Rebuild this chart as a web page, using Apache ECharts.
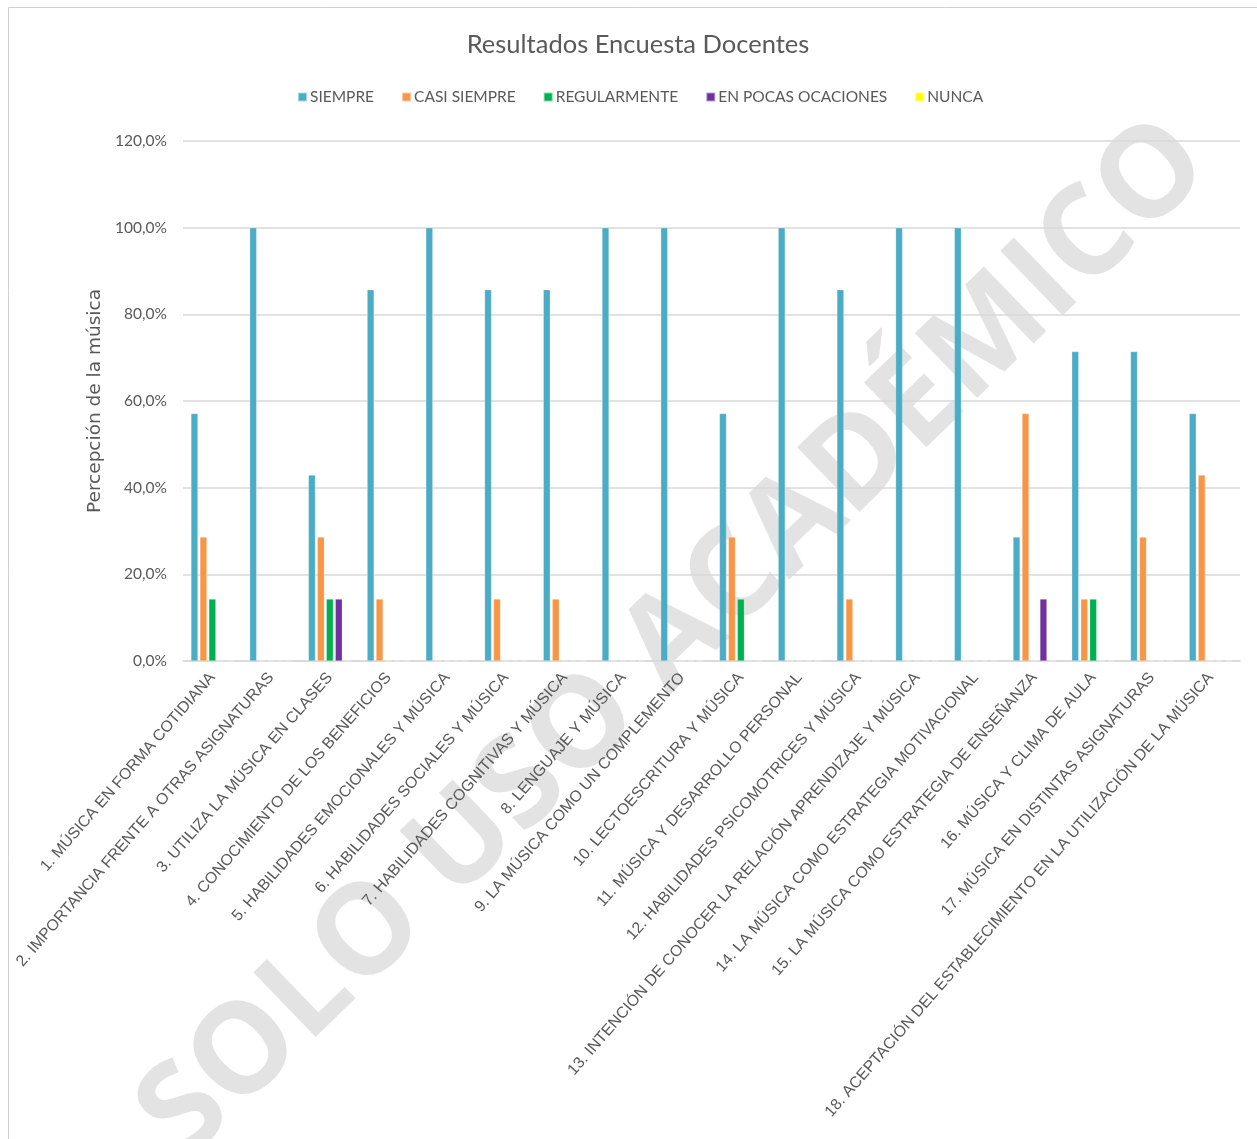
<!DOCTYPE html>
<html>
<head>
<meta charset="utf-8">
<script src="https://cdn.jsdelivr.net/npm/echarts@6/dist/echarts.min.js"></script>
<style>
html,body{margin:0;padding:0;background:#fff;}
#chart{width:1257px;height:1139px;}
</style>
</head>
<body>
<div id="chart"></div>
<script>
const categories = [
  "1. MÚSICA EN FORMA COTIDIANA",
  "2. IMPORTANCIA FRENTE A OTRAS ASIGNATURAS",
  "3. UTILIZA LA MÚSICA EN CLASES",
  "4. CONOCIMIENTO DE LOS BENEFICIOS",
  "5. HABILIDADES EMOCIONALES Y MÚSICA",
  "6. HABILIDADES SOCIALES Y MÚSICA",
  "7. HABILIDADES COGNITIVAS Y MÚSICA",
  "8. LENGUAJE Y MÚSICA",
  "9. LA MÚSICA COMO UN COMPLEMENTO",
  "10. LECTOESCRITURA Y MÚSICA",
  "11. MÚSICA Y DESARROLLO PERSONAL",
  "12. HABILIDADES PSICOMOTRICES Y MÚSICA",
  "13. INTENCIÓN DE CONOCER LA RELACIÓN APRENDIZAJE Y MÚSICA",
  "14. LA MÚSICA COMO ESTRATEGIA MOTIVACIONAL",
  "15. LA MÚSICA COMO ESTRATEGIA DE ENSEÑANZA",
  "16. MÚSICA Y CLIMA DE AULA",
  "17. MÚSICA EN DISTINTAS ASIGNATURAS",
  "18. ACEPTACIÓN DEL ESTABLECIMIENTO EN LA UTILIZACIÓN DE LA MÚSICA"
];
const seriesNames = ["SIEMPRE", "CASI SIEMPRE", "REGULARMENTE", "EN POCAS OCACIONES", "NUNCA"];
const siempre      = [57.1, 100, 42.9, 85.7, 100, 85.7, 85.7, 100, 100, 57.1, 100, 85.7, 100, 100, 28.6, 71.4, 71.4, 57.1];
const casiSiempre  = [28.6, 0, 28.6, 14.3, 0, 14.3, 14.3, 0, 0, 28.6, 0, 14.3, 0, 0, 57.1, 14.3, 28.6, 42.9];
const regularmente = [14.3, 0, 14.3, 0, 0, 0, 0, 0, 0, 14.3, 0, 0, 0, 0, 0, 14.3, 0, 0];
const enPocas      = [0, 0, 14.3, 0, 0, 0, 0, 0, 0, 0, 0, 0, 0, 0, 14.3, 0, 0, 0];
const nunca        = [0, 0, 0, 0, 0, 0, 0, 0, 0, 0, 0, 0, 0, 0, 0, 0, 0, 0];
const seriesData = [siempre, casiSiempre, regularmente, enPocas, nunca];
const colors = ["#4BACC6", "#F79646", "#00B050", "#7030A0", "#FFFF00"];
const yTicks = { min: 0, max: 120, interval: 20 };

const FONT = "Lato, sans-serif";
const chart = echarts.init(document.getElementById('chart'), null, { renderer: 'canvas' });
const option = {
  animation: false,
  backgroundColor: '#fff',
  color: colors,
  title: {
    text: 'Resultados Encuesta Docentes',
    left: 633,
    textAlign: 'center',
    top: 27,
    textStyle: { fontFamily: FONT, fontSize: 25.5, fontWeight: 'normal', color: '#595959' }
  },
  legend: {
    top: 89,
    left: 297,
    padding: 0,
    itemWidth: 9,
    itemHeight: 9,
    itemGap: 27,
    icon: 'rect',
    textStyle: { fontFamily: FONT, fontSize: 15.5, color: '#595959', padding: [0, 0, 0, -2] },
    data: seriesNames
  },
  grid: { left: 183, right: 17, top: 141, bottom: 478, containLabel: false },
  xAxis: {
    type: 'category',
    data: categories,
    axisLine: { lineStyle: { color: '#d9d9d9', width: 1.5 } },
    axisTick: { show: false },
    axisLabel: {
      interval: 0,
      rotate: 49,
      margin: 14,
      fontFamily: "'Liberation Sans', Arial, sans-serif",
      fontSize: 15.8,
      color: '#595959'
    }
  },
  yAxis: {
    type: 'value',
    min: yTicks.min,
    max: yTicks.max,
    interval: yTicks.interval,
    name: 'Percepción de la música',
    nameLocation: 'middle',
    nameGap: 77,
    nameRotate: 90,
    nameTextStyle: { fontFamily: "'DejaVu Sans', sans-serif", fontSize: 18.5, color: '#595959' },
    axisLine: { show: false },
    axisTick: { show: false },
    splitLine: { lineStyle: { color: '#d9d9d9', width: 1.5 } },
    axisLabel: {
      margin: 16,
      fontFamily: FONT,
      fontSize: 15.5,
      color: '#595959',
      formatter: v => v.toFixed(1).replace('.', ',') + '%'
    }
  },
  graphic: {
    z: 1,
    elements: [
      {
        type: 'rect',
        shape: { x: 8.5, y: 7.5, width: 1260, height: 1140 },
        style: { fill: 'none', stroke: '#d0d0d0', lineWidth: 1 }
      },
      {
        type: 'text',
        x: 675,
        y: 640,
        rotation: 44 * Math.PI / 180,
        style: {
          text: 'SOLO USO ACADÉMICO',
          fontFamily: "'Open Sans', Lato, sans-serif",
          fontWeight: 'bold',
          fontSize: 126,
          fill: 'rgba(0,0,0,0.11)',
          align: 'center',
          verticalAlign: 'middle'
        }
      }
    ]
  },
  series: seriesNames.map((name, i) => ({
    name: name,
    type: 'bar',
    z: 5,
    data: seriesData[i],
    barWidth: 7,
    barGap: '28%',
    itemStyle: { color: colors[i], borderColor: 'rgba(255,255,255,0.5)', borderWidth: 0.5 }
  }))
};
chart.setOption(option);
</script>
</body>
</html>
